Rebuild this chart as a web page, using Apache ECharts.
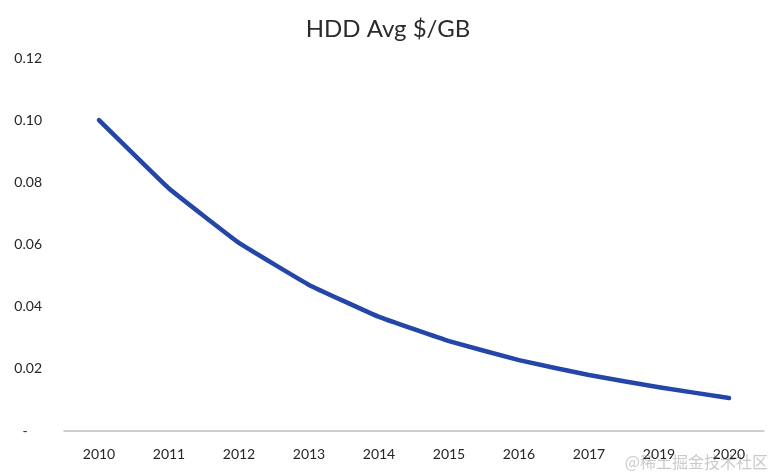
<!DOCTYPE html>
<html>
<head>
<meta charset="utf-8">
<script src="https://cdn.jsdelivr.net/npm/echarts@6/dist/echarts.min.js"></script>
<style>html,body{margin:0;padding:0;background:#fff;}#c{width:776px;height:476px;}</style>
</head>
<body>
<div id="c"></div>
<script>
const categories = ['2010','2011','2012','2013','2014','2015','2016','2017','2019','2020'];
const avgPricePerGB = [0.100, 0.078, 0.0605, 0.047, 0.0367, 0.0289, 0.0228, 0.018, 0.0141, 0.0106];
const yTicks = {min: 0, max: 0.12, interval: 0.02};

const chart = echarts.init(document.getElementById('c'));
chart.setOption({
  animation: false,
  backgroundColor: '#ffffff',
  title: {
    text: 'HDD Avg $/GB',
    left: 'center',
    top: 12,
    textStyle: {fontFamily: 'Lato', fontSize: 24, fontWeight: 'normal', color: '#2b2b2b'}
  },
  grid: {left: 64, right: 12, top: 58, bottom: 45},
  xAxis: {
    type: 'category',
    data: categories,
    boundaryGap: true,
    axisLine: {lineStyle: {color: '#bfbfbf', width: 1.5}},
    axisTick: {show: false},
    axisLabel: {fontFamily: 'Lato', fontSize: 14, color: '#262626', margin: 16}
  },
  yAxis: {
    type: 'value',
    min: yTicks.min, max: yTicks.max, interval: yTicks.interval,
    axisLine: {show: false},
    axisTick: {show: false},
    splitLine: {show: false},
    axisLabel: {
      fontFamily: 'Lato', fontSize: 14, color: '#262626', margin: 22,
      formatter: v => Math.abs(v) < 1e-9 ? '-    ' : v.toFixed(2)
    }
  },
  series: [{
    type: 'line',
    data: avgPricePerGB,
    smooth: 0.08,
    symbol: 'none',
    lineStyle: {color: '#2346a8', width: 4.5, cap: 'round', join: 'round'}
  }],
  graphic: [{
    type: 'text',
    right: 8,
    bottom: 6,
    style: {text: '@稀土掘金技术社区', font: '16px "Noto Sans CJK SC"', fill: 'rgba(150,150,150,0.5)'}
  }]
});
</script>
</body>
</html>
